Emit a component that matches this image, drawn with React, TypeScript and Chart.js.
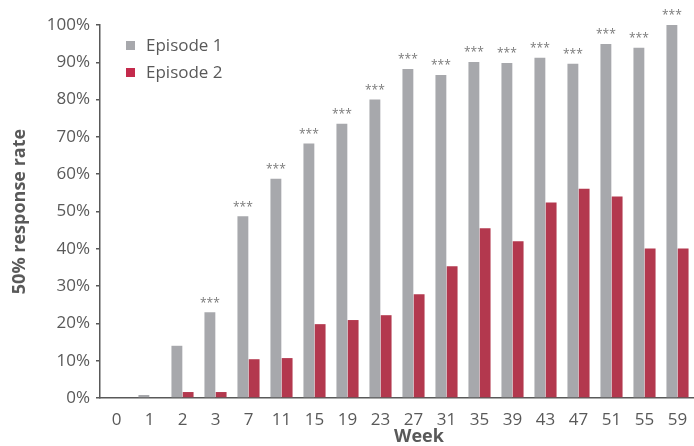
import React, { useEffect, useRef } from 'react';
import { Chart, registerables } from 'chart.js';

Chart.register(...registerables);

// Week of assessment
const weeks = ['0', '1', '2', '3', '7', '11', '15', '19', '23', '27', '31', '35', '39', '43', '47', '51', '55', '59'];

// 50% response rate (%) per episode
const episode1 = [0, 0.8, 14, 23, 48.7, 58.8, 68.2, 73.5, 80, 88.2, 86.6, 90.1, 89.8, 91.2, 89.6, 94.9, 93.9, 100];
const episode2 = [0, 0, 1.6, 1.6, 10.4, 10.7, 19.8, 20.9, 22.2, 27.8, 35.3, 45.5, 42, 52.4, 56.1, 54, 40.1, 40.1];

// Significance markers shown above the Episode 1 bars
const significance = ['', '', '', '***', '***', '***', '***', '***', '***', '***', '***', '***', '***', '***', '***', '***', '***', '***'];

const seriesNames = ['Episode 1', 'Episode 2'];
const barColors = ['#a7a8ac', '#b3384e'];
const legendColors = ['#a7a8ac', '#c42a4c'];

const TEXT = '#595959';
const FONT = '"Open Sans", sans-serif';

const overlayPlugin = {
  id: 'overlay',
  afterDraw(chart: any) {
    const { ctx, chartArea } = chart;
    ctx.save();

    // significance stars
    const meta = chart.getDatasetMeta(0);
    ctx.fillStyle = '#7a7a7a';
    ctx.font = `12px ${FONT}`;
    ctx.textAlign = 'center';
    ctx.textBaseline = 'middle';
    meta.data.forEach((bar: any, i: number) => {
      if (significance[i]) ctx.fillText(significance[i], bar.x, bar.y - 9);
    });

    // legend inside the plot area
    ctx.font = `17px ${FONT}`;
    ctx.textAlign = 'left';
    seriesNames.forEach((name, i) => {
      const y = chartArea.top + 21 + i * 27;
      ctx.fillStyle = legendColors[i];
      ctx.fillRect(chartArea.left + 26, y - 5, 9, 9);
      ctx.fillStyle = TEXT;
      ctx.fillText(name, chartArea.left + 46, y);
    });

    // x axis title
    const xs = chart.scales.x;
    ctx.font = `bold 18px ${FONT}`;
    ctx.textAlign = 'center';
    ctx.fillStyle = TEXT;
    ctx.fillText('Week', (xs.left + xs.right) / 2 + 22, xs.bottom - 9);

    ctx.restore();
  },
};

export default function App() {
  const canvasRef = useRef<HTMLCanvasElement | null>(null);

  useEffect(() => {
    document.body.style.margin = '0';
    const canvas = canvasRef.current;
    if (!canvas) return;
    const chart = new Chart(canvas, {
      type: 'bar',
      data: {
        labels: weeks,
        datasets: [
          { label: seriesNames[0], data: episode1, backgroundColor: barColors[0] },
          { label: seriesNames[1], data: episode2, backgroundColor: barColors[1] },
        ],
      },
      options: {
        animation: false,
        responsive: false,
        maintainAspectRatio: false,
        layout: { padding: { top: 25, right: 0, bottom: 0, left: 0 } },
        datasets: {
          bar: { categoryPercentage: 0.68, barPercentage: 0.97 },
        },
        plugins: {
          legend: { display: false },
          tooltip: { enabled: false },
        },
        scales: {
          x: {
            grid: { display: false },
            border: { display: true, color: TEXT, width: 1.5 },
            ticks: { color: TEXT, font: { family: FONT, size: 17 }, padding: 4, maxRotation: 0 },
            afterFit(scale: any) {
              scale.height = 48;
            },
          },
          y: {
            min: 0,
            max: 100,
            ticks: {
              stepSize: 10,
              color: TEXT,
              font: { family: FONT, size: 17 },
              padding: 6,
              callback: (v: any) => `${v}%`,
            },
            grid: { drawOnChartArea: false, drawTicks: true, tickLength: 4, color: TEXT, lineWidth: 1.5 },
            border: { display: true, color: TEXT, width: 1.5 },
            title: {
              display: true,
              text: '50% response rate',
              color: TEXT,
              font: { family: FONT, size: 18, weight: 'bold' },
              padding: { top: 9, bottom: 0 },
            },
            afterFit(scale: any) {
              scale.width = 100;
            },
          },
        },
      },
      plugins: [overlayPlugin],
    });
    return () => chart.destroy();
  }, []);

  return <canvas ref={canvasRef} width={694} height={446} style={{ display: 'block' }} />;
}
